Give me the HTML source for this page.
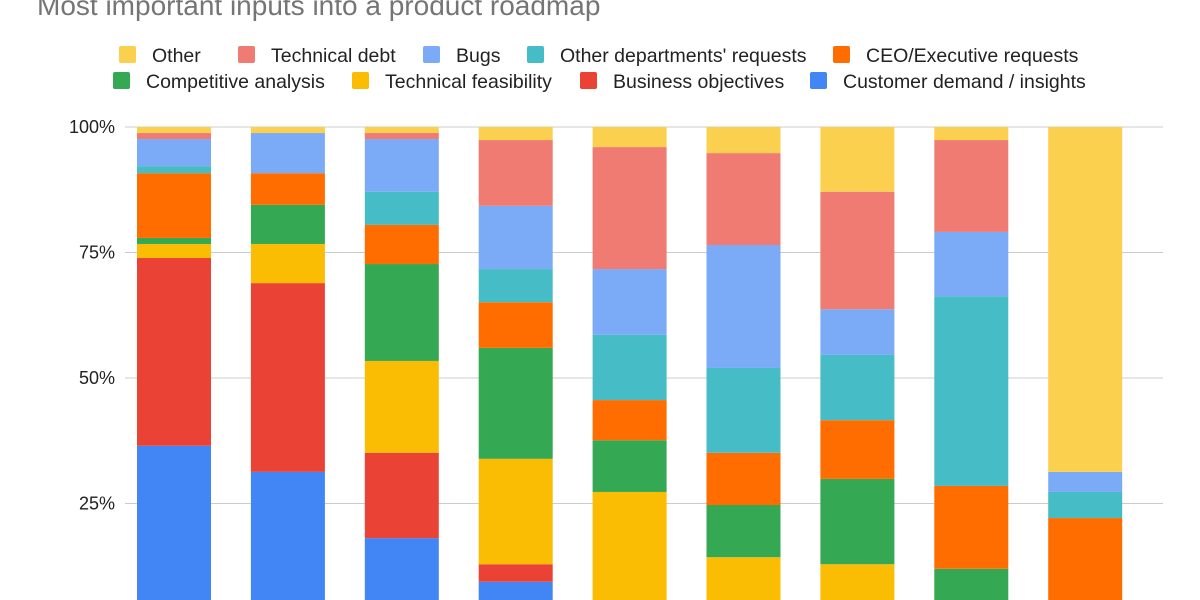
<!DOCTYPE html>
<html><head><meta charset="utf-8"><style>
body{margin:0;background:#fff;overflow:hidden;font-family:"Liberation Sans",Arial,sans-serif}
svg{display:block}
</style></head><body>
<svg id="chart" width="1200" height="600" viewBox="0 0 1200 600">
<text x="37" y="15" font-size="28" fill="#757575">Most important inputs into a product roadmap</text>
<g id="legend"></g>
<g id="grid"></g>
<g id="bars"></g>
</svg>
<script>
const seriesNames=["Customer demand / insights","Business objectives","Technical feasibility","Competitive analysis","CEO/Executive requests","Other departments' requests","Bugs","Technical debt","Other"];
const colors=["#4285f4","#ea4335","#fbbc04","#34a853","#ff6d01","#46bdc6","#7baaf7","#f07b72","#fcd04f"];
const categories=["1","2","3","4","5","6","7","8","9"];
const customerDemand=[36.5,31.3,18.1,9.4,0,0,0,0,0];
const businessObjectives=[37.4,37.6,17.0,3.5,0,0,0,0,0];
const technicalFeasibility=[2.8,7.8,18.3,21.0,27.3,14.3,12.9,0,0];
const competitiveAnalysis=[1.2,7.8,19.3,22.1,10.3,10.4,17.0,12.0,0];
const ceoRequests=[12.9,6.3,7.8,9.1,8.0,10.4,11.7,16.5,22.1];
const otherDepartments=[1.4,0,6.6,6.6,13.0,16.9,13.0,37.8,5.2];
const bugs=[5.4,8.0,10.5,12.6,13.1,24.5,9.1,12.8,4.0];
const technicalDebt=[1.2,0,1.2,13.1,24.3,18.3,23.4,18.3,0];
const other=[1.2,1.2,1.2,2.6,4.0,5.2,12.9,2.6,68.7];
const tickValues=[25,50,75,100];
const tickLabels=["25%","50%","75%","100%"];
const series=[customerDemand,businessObjectives,technicalFeasibility,competitiveAnalysis,ceoRequests,otherDepartments,bugs,technicalDebt,other];
const NS="http://www.w3.org/2000/svg";
const y=v=>629-v*5.02;
const x=i=>174+i*113.9;
const bw=74;
function mk(t,a,p){const e=document.createElementNS(NS,t);for(const k in a)e.setAttribute(k,a[k]);p.appendChild(e);return e;}
const grid=document.getElementById('grid');
tickValues.forEach((v,i)=>{
  const l=mk('line',{x1:125,x2:1163,y1:y(v),y2:y(v),stroke:'#cccccc','stroke-width':1},grid);
  
  
  const t=mk('text',{x:115,y:y(v)+6,'text-anchor':'end','font-size':18,fill:'#222'},grid);
  t.textContent=tickLabels[i];
  
  
});
const bars=document.getElementById('bars');
categories.forEach((c,i)=>{
  let acc=0;
  series.forEach((s,k)=>{
    const v=s[i]; if(v<=0)return;
    const r=mk('rect',{x:x(i)-bw/2,y:y(acc+v),width:bw,height:y(acc)-y(acc+v),fill:colors[k]},bars);
    
    
    acc+=v;
  });
});
const legend=document.getElementById('legend');
const leg=[[0,8,119,55],[1,7,238,55],[2,6,423,55],[3,5,527,55],[4,4,833,55],[5,3,113,81],[6,2,352,81],[7,1,580,81],[8,0,810,81]];
leg.forEach(([n,k,lx,ly])=>{
  const r=mk('rect',{x:lx,y:ly-9,width:17,height:17,rx:2,fill:colors[k]},legend);
  
  
  const t=mk('text',{x:lx+33,y:ly+7,'font-size':19.5,fill:'#222'},legend);
  t.textContent=seriesNames[k];
  
  
});
</script>
</body></html>
